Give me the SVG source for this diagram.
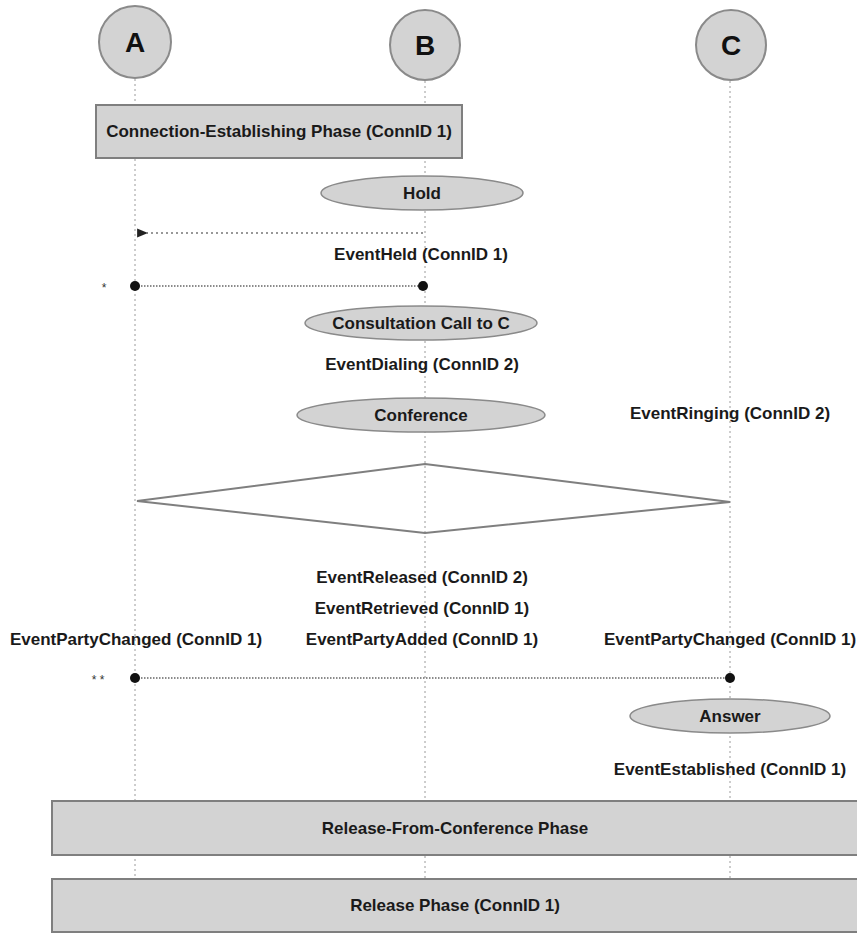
<svg xmlns="http://www.w3.org/2000/svg" width="857" height="934" viewBox="0 0 857 934">
  <defs>
    <style>
      .life { stroke: #9a9a9a; stroke-width: 1; stroke-dasharray: 2 3; fill: none; }
      .actor { fill: #d3d3d3; stroke: #8a8a8a; stroke-width: 2; }
      .box { fill: #d3d3d3; stroke: #7f7f7f; stroke-width: 2; }
      .oval { fill: #d3d3d3; stroke: #8a8a8a; stroke-width: 1.5; }
      .lbl { font-family: "Liberation Sans", Arial, sans-serif; font-weight: bold; font-size: 17px; fill: #1a1a1a; text-anchor: middle; }
      .big { font-family: "Liberation Sans", Arial, sans-serif; font-weight: bold; font-size: 28px; fill: #111; text-anchor: middle; }
      .msg { stroke: #777; stroke-width: 1.5; stroke-dasharray: 2 3; fill: none; }
      .sync { stroke: #666; stroke-width: 1.5; stroke-dasharray: 1.5 1.5; fill: none; }
      .dot { fill: #111; }
    </style>
    <marker id="arrow" viewBox="0 0 10 10" refX="1" refY="5" markerWidth="11" markerHeight="11" markerUnits="userSpaceOnUse" orient="auto">
      <path d="M10,1 L0,5 L10,9 Z" fill="#222"/>
    </marker>
  </defs>

  <!-- lifelines -->
  <g id="lifelines">
    <line class="life" x1="135" y1="79" x2="135" y2="934"/>
    <line class="life" x1="425" y1="81" x2="425" y2="934"/>
    <line class="life" x1="730" y1="81" x2="730" y2="934"/>
  </g>

  <!-- participants -->
  <g id="actor-a">
    <circle class="actor" cx="135" cy="42" r="36"/>
    <text class="big" x="135" y="52">A</text>
  </g>
  <g id="actor-b">
    <circle class="actor" cx="425" cy="45" r="35"/>
    <text class="big" x="425" y="55">B</text>
  </g>
  <g id="actor-c">
    <circle class="actor" cx="731" cy="45" r="35"/>
    <text class="big" x="731" y="55">C</text>
  </g>

  <g id="phase-establish">
    <rect class="box" x="96" y="105" width="366" height="53"/>
    <text class="lbl" x="279" y="137">Connection-Establishing Phase (ConnID 1)</text>
  </g>

  <g id="op-hold">
    <ellipse class="oval" cx="422" cy="193" rx="101" ry="17"/>
    <text class="lbl" x="422" y="199">Hold</text>
  </g>

  <g id="ev-held">
    <text class="lbl" x="421" y="260">EventHeld (ConnID 1)</text>
  </g>

  <g id="op-consult">
    <ellipse class="oval" cx="421" cy="323" rx="116" ry="17"/>
    <text class="lbl" x="421" y="329">Consultation Call to C</text>
  </g>

  <g id="ev-dialing">
    <text class="lbl" x="422" y="370">EventDialing (ConnID 2)</text>
  </g>

  <g id="op-conference">
    <ellipse class="oval" cx="421" cy="415" rx="124" ry="17"/>
    <text class="lbl" x="421" y="421">Conference</text>
  </g>

  <g id="ev-ringing">
    <text class="lbl" x="730" y="419">EventRinging (ConnID 2)</text>
  </g>

  <g id="decision">
    <polygon points="137,501 425,464 730,502 425,533" fill="none" stroke="#7f7f7f" stroke-width="2"/>
  </g>

  <g id="ev-released">
    <text class="lbl" x="422" y="583">EventReleased (ConnID 2)</text>
  </g>
  <g id="ev-retrieved">
    <text class="lbl" x="422" y="614">EventRetrieved (ConnID 1)</text>
  </g>
  <g id="ev-partyadded">
    <text class="lbl" x="422" y="645">EventPartyAdded (ConnID 1)</text>
  </g>
  <g id="ev-partychanged-a">
    <text class="lbl" x="136" y="645">EventPartyChanged (ConnID 1)</text>
  </g>
  <g id="ev-partychanged-c">
    <text class="lbl" x="730" y="645">EventPartyChanged (ConnID 1)</text>
  </g>

  <g id="op-answer">
    <ellipse class="oval" cx="730" cy="716" rx="100" ry="17"/>
    <text class="lbl" x="730" y="722">Answer</text>
  </g>

  <g id="ev-established">
    <text class="lbl" x="730" y="775">EventEstablished (ConnID 1)</text>
  </g>

  <g id="phase-release-conf">
    <rect class="box" x="52" y="801" width="808" height="54"/>
    <text class="lbl" x="455" y="834">Release-From-Conference Phase</text>
  </g>

  <g id="phase-release">
    <rect class="box" x="52" y="879" width="808" height="53"/>
    <text class="lbl" x="455" y="911">Release Phase (ConnID 1)</text>
  </g>

  <!-- connectors -->
  <g id="connectors">
    <line class="msg" x1="423" y1="233" x2="147" y2="233" marker-end="url(#arrow)"/>
    <line class="sync" x1="135" y1="286" x2="423" y2="286"/>
    <circle class="dot" cx="135" cy="286" r="5"/>
    <circle class="dot" cx="423" cy="286" r="5"/>
    <line class="sync" x1="135" y1="678" x2="730" y2="678"/>
    <circle class="dot" cx="135" cy="678" r="5"/>
    <circle class="dot" cx="730" cy="678" r="5"/>
    <text x="104" y="292" font-family="Liberation Sans, Arial, sans-serif" font-size="12" fill="#333" text-anchor="middle">*</text>
    <text x="98" y="684" font-family="Liberation Sans, Arial, sans-serif" font-size="12" fill="#333" text-anchor="middle">* *</text>
  </g>
</svg>
